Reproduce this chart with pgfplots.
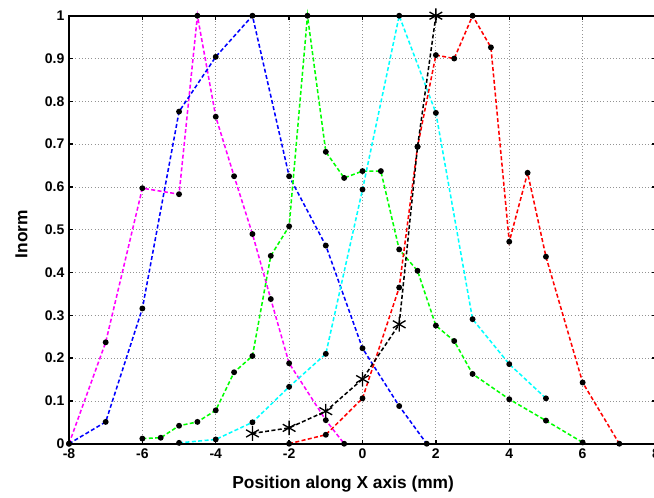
\documentclass[border=0pt]{standalone}
\usepackage{fontspec}
\setmainfont{Liberation Sans}
\usepackage{pgfplots}
\pgfplotsset{compat=1.18}
\definecolor{mmag}{rgb}{1,0,1}
\definecolor{mcyan}{rgb}{0,1,1}
\definecolor{mgreen}{rgb}{0,1,0}
\definecolor{mblue}{rgb}{0,0,1}
\definecolor{mred}{rgb}{1,0,0}
\begin{document}
\begin{tikzpicture}
\begin{axis}[
  scale only axis,
  width=440.25pt, height=321pt,
  xmin=-8, xmax=8, ymin=0, ymax=1,
  xtick={-8,-6,-4,-2,0,2,4,6,8},
  xticklabels={-8,-6,-4,-2,0,2,4,6,8},
  ytick={0,0.1,0.2,0.3,0.4,0.5,0.6,0.7,0.8,0.9,1},
  yticklabels={0,0.1,0.2,0.3,0.4,0.5,0.6,0.7,0.8,0.9,1},
  /pgf/number format/assume math mode=true,
  tick align=inside,
  xtick pos=both, ytick pos=both,
  major tick length=3pt,
  tick style={black, line width=1pt},
  axis line style={black, line width=1.3pt},
  grid=major,
  major grid style={gray!85, dotted, line width=0.6pt},
  ticklabel style={font=\bfseries\fontsize{10.5}{12}\selectfont},
  xlabel={Position along X axis (mm)},
  ylabel={Inorm},
  label style={font=\bfseries\fontsize{13}{15}\selectfont},
  xlabel style={at={(axis description cs:0.467,-0.094)}, anchor=center},
  ylabel style={at={(axis description cs:-0.081,0.49)}, anchor=center},
  clip=false,
  every axis plot/.append style={line width=1.15pt, dash pattern=on 3pt off 1.8pt,
     mark=*, mark size=1.6pt, mark options={solid, fill=black, draw=black}},
]
% magenta
\addplot[mmag] coordinates {
(-8,0) (-7,0.237) (-6,0.597) (-5,0.583) (-4.5,1) (-4,0.764) (-3.5,0.625)
(-3,0.49) (-2.5,0.338) (-2,0.188) (-1,0.055) (-0.5,0)};
% blue
\addplot[mblue] coordinates {
(-8,0) (-7,0.051) (-6,0.316) (-5,0.776) (-4,0.904) (-3,1) (-2,0.625)
(-1,0.463) (0,0.223) (1,0.088) (1.75,0)};
% green
\addplot[mgreen] coordinates {
(-6,0.012) (-5.5,0.014) (-5,0.042) (-4.5,0.051) (-4,0.078) (-3.5,0.167)
(-3,0.205) (-2.5,0.439) (-2,0.508) (-1.5,1) (-1,0.682) (-0.5,0.621)
(0,0.637) (0.5,0.637) (1,0.454) (1.5,0.404) (2,0.276) (2.5,0.240)
(3,0.163) (4,0.104) (5,0.054) (6,0.003)};
% cyan
\addplot[mcyan] coordinates {
(-5,0.002) (-4,0.01) (-3,0.05) (-2,0.133) (-1,0.21) (0,0.594) (1,1)
(2,0.773) (3,0.291) (4,0.186) (5,0.106)};
% red
\addplot[mred] coordinates {
(-2,0) (-1,0.021) (0,0.106) (1,0.365) (1.5,0.694) (2,0.908) (2.5,0.9)
(3,1) (3.5,0.926) (4,0.472) (4.5,0.633) (5,0.437) (6,0.143) (7,0)};
% black with asterisks
\addplot[black, mark=asterisk, mark size=5.5pt,
  mark options={solid, draw=black, line width=1pt},
  mark indices={1,2,3,4,5,7}] coordinates {
(-3,0.024) (-2,0.037) (-1,0.076) (0,0.151) (1,0.279) (1.5,0.694) (2,1)};
\addplot[only marks, black] coordinates {(1.5,0.694)};
\draw[black, line width=1.6pt] (rel axis cs:0,0) rectangle (rel axis cs:1,1);
\end{axis}
\pgfresetboundingbox
\useasboundingbox (-51.75pt,-40.7pt) rectangle (438.75pt,332.8pt);
\end{tikzpicture}
\end{document}
